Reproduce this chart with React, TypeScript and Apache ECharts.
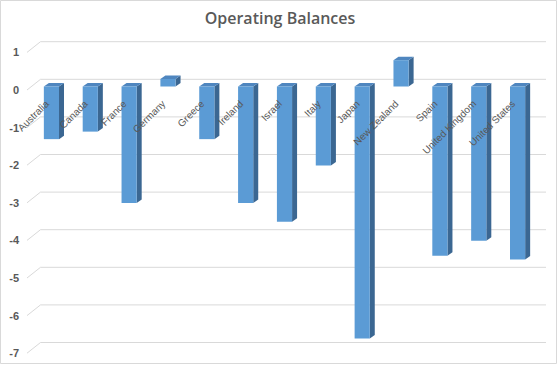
import React, { useEffect, useRef } from "react";
import * as echarts from "echarts";

const categories = [
  "Australia", "Canada", "France", "Germany", "Greece", "Ireland", "Israel",
  "Italy", "Japan", "New Zealand", "Spain", "United Kingdom", "United States",
];
const values = [-1.4, -1.2, -3.1, 0.2, -1.4, -3.1, -3.6, -2.1, -6.7, 0.7, -4.5, -4.1, -4.6];
const tickValues = [1, 0, -1, -2, -3, -4, -5, -6, -7];

const FRONT = "#5B9BD5";
const TOP = "#4F86BF";
const SIDE = "#3B6792";
const GRID = "#D9D9D9";
const TEXT = "#595959";

export default function App() {
  const ref = useRef<HTMLDivElement>(null);
  useEffect(() => {
    if (!ref.current) return;
    const chart = echarts.init(ref.current, null, { renderer: "svg" });
    const option: any = {
      animation: false,
      backgroundColor: "#fff",
      title: {
        text: "Operating Balances",
        left: "center",
        top: 5,
        textStyle: { fontFamily: "Open Sans", fontSize: 16, fontWeight: 600, color: TEXT },
      },
      graphic: [
        {
          type: "rect",
          shape: { x: 0.5, y: 0.5, width: 556, height: 363 },
          style: { fill: "none", stroke: GRID, lineWidth: 1 },
          silent: true,
        },
      ],
      grid: { left: 32, right: 23, top: 52.4, bottom: 11.8, containLabel: false },
      xAxis: {
        type: "category",
        data: categories,
        axisLine: { show: false },
        axisTick: { show: false },
        splitLine: { show: false },
        axisLabel: { show: false },
      },
      yAxis: {
        type: "value",
        min: -7,
        max: 1,
        interval: 1,
        axisLine: { show: false },
        axisTick: { show: false },
        splitLine: { show: false },
        axisLabel: {
          margin: 13,
          fontFamily: "Liberation Sans",
          fontSize: 11,
          fontWeight: "bold",
          color: TEXT,
        },
      },
      series: [
        {
          type: "custom",
          z: 1,
          silent: true,
          data: tickValues.map((v) => [0, v]),
          encode: { x: 0, y: 1 },
          renderItem: (params: any, api: any) => {
            const v = api.value(1);
            const y = api.coord([0, v])[1];
            const cs = params.coordSys;
            const x0 = 27;
            const x1 = 40.5;
            const x2 = cs.x + cs.width + 9;
            return {
              type: "polyline",
              shape: { points: [[x0, y], [x1, y - 10.7], [x2, y - 10.7]] },
              style: { fill: "none", stroke: GRID, lineWidth: 1 },
            };
          },
        },
        {
          type: "custom",
          z: 5,
          silent: true,
          data: values.map((v, i) => [i, v]),
          encode: { x: 0, y: 1 },
          renderItem: (params: any, api: any) => {
            const i = api.value(0);
            const v = api.value(1);
            const pz = api.coord([i, 0]);
            const pv = api.coord([i, v]);
            const off = -3.5;
            const w = api.size([1, 0])[0] * 0.39;
            const cx = pz[0];
            const xl = cx - w / 2;
            const xr = cx + w / 2;
            const yTop = Math.min(pz[1], pv[1]) + off;
            const yBot = Math.max(pz[1], pv[1]) + off;
            const dx = 5;
            const dy = 3.5;
            return {
              type: "group",
              children: [
                {
                  type: "polygon",
                  shape: { points: [[xr, yTop], [xr + dx, yTop - dy], [xr + dx, yBot - dy], [xr, yBot]] },
                  style: { fill: SIDE },
                },
                {
                  type: "polygon",
                  shape: { points: [[xl, yTop], [xl + dx, yTop - dy], [xr + dx, yTop - dy], [xr, yTop]] },
                  style: { fill: TOP },
                },
                {
                  type: "rect",
                  shape: { x: xl, y: yTop, width: w, height: yBot - yTop },
                  style: { fill: FRONT },
                },
              ],
            };
          },
        },
        {
          type: "custom",
          z: 10,
          silent: true,
          data: categories.map((c, i) => [i, 0]),
          encode: { x: 0, y: 1 },
          renderItem: (params: any, api: any) => {
            const i = api.value(0);
            const p = api.coord([i, 0]);
            return {
              type: "text",
              x: p[0] - 4.3,
              y: p[1] + 12,
              rotation: Math.PI / 4,
              style: {
                text: categories[i],
                align: "right",
                verticalAlign: "middle",
                fontFamily: "Liberation Sans",
                fontSize: 10,
                fill: TEXT,
              },
            };
          },
        },
      ],
    };
    chart.setOption(option);
    return () => chart.dispose();
  }, []);
  return (
    <div
      ref={ref}
      style={{ position: "absolute", left: 0, top: 0, width: 560, height: 365 }}
    />
  );
}
